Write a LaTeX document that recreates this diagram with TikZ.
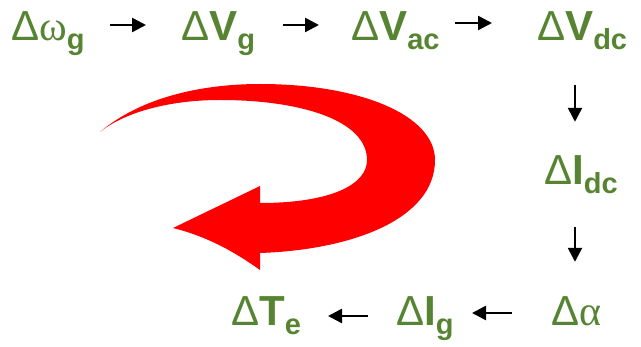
\documentclass[tikz,border=0pt]{standalone}
\usepackage{fontspec}
\usetikzlibrary{arrows.meta}
\newfontfamily\lsans{Liberation Sans}
\newfontfamily\lserif{Liberation Serif}
\definecolor{vgreen}{RGB}{86,132,50}
\newcommand{\Dl}{{\lsans\mdseries Δ}}
\newcommand{\Gk}[1]{{\lserif\mdseries #1}}
\newcommand{\sbs}[1]{\raisebox{-9pt}{\fontsize{29}{29}\selectfont\lsans\bfseries #1}}
\begin{document}
\begin{tikzpicture}[x=1pt,y=-1pt,
  lab/.style={anchor=base west, inner sep=0pt, text height=36pt, text depth=0pt,
    font=\fontsize{42}{42}\selectfont\lsans\bfseries, text=vgreen},
  arr/.style={line width=2.5pt, -{Triangle[length=14pt,width=14pt]}}]
\useasboundingbox (0,0) rectangle (641,347);
% red feedback arrow
\fill[red] (100,132) .. controls (140,98) and (200,84) .. (260,84)
  .. controls (360,84) and (435,115) .. (435,160)
  .. controls (435,220) and (350,250) .. (260,253)
  -- (260,270)
  .. controls (232,250) and (205,236) .. (173,228)
  -- (260,186) -- (260,203)
  .. controls (330,203) and (367,185) .. (367,160)
  .. controls (367,120) and (300,100) .. (220,100)
  .. controls (170,100) and (125,112) .. (100,132) -- cycle;
% labels
\node[lab] (w)   at (11,41)  {\Dl\Gk{ω}\sbs{g}};
\node[lab] (Vg)  at (181,41) {\Dl V\sbs{g}};
\node[lab] (Vac) at (351,41) {\Dl V\sbs{ac}};
\node[lab] (Vdc) at (537,41) {\Dl V\sbs{dc}};
\node[lab] (Idc) at (544,185) {\Dl I\sbs{dc}};
\node[lab] (al)  at (551,326) {\Dl\Gk{α}};
\node[lab] (Ig)  at (396,326) {\Dl I\sbs{g}};
\node[lab] (Te)  at (231,326) {\Dl T\sbs{e}};
% connectors
\draw[arr, shorten <=99pt, shorten >=35pt] ([yshift=-2pt]w.west) -- ([yshift=-2pt]Vg.west);
\draw[arr, shorten <=102pt, shorten >=32pt] ([yshift=-2pt]Vg.west) -- ([yshift=-2pt]Vac.west);
\draw[arr, shorten <=104pt, shorten >=45pt] (Vac.west) -- (Vdc.west);
\draw[arr, shorten <=44pt, shorten >=27pt] ([xshift=31pt]Idc.north west |- Vdc.south) -- ([xshift=31pt]Idc.north west);
\draw[arr, shorten <=42pt, shorten >=28pt] ([xshift=31pt]Idc.south west) -- ([xshift=31pt]Idc.south west |- al.north);
\draw[arr, shorten <=39pt, shorten >=76pt] ([yshift=-5pt]al.west) -- ([yshift=-5pt]Ig.west);
\draw[arr, shorten <=28pt, shorten >=97pt] ([yshift=-8pt]Ig.west) -- ([yshift=-8pt]Te.west);
\end{tikzpicture}
\end{document}
